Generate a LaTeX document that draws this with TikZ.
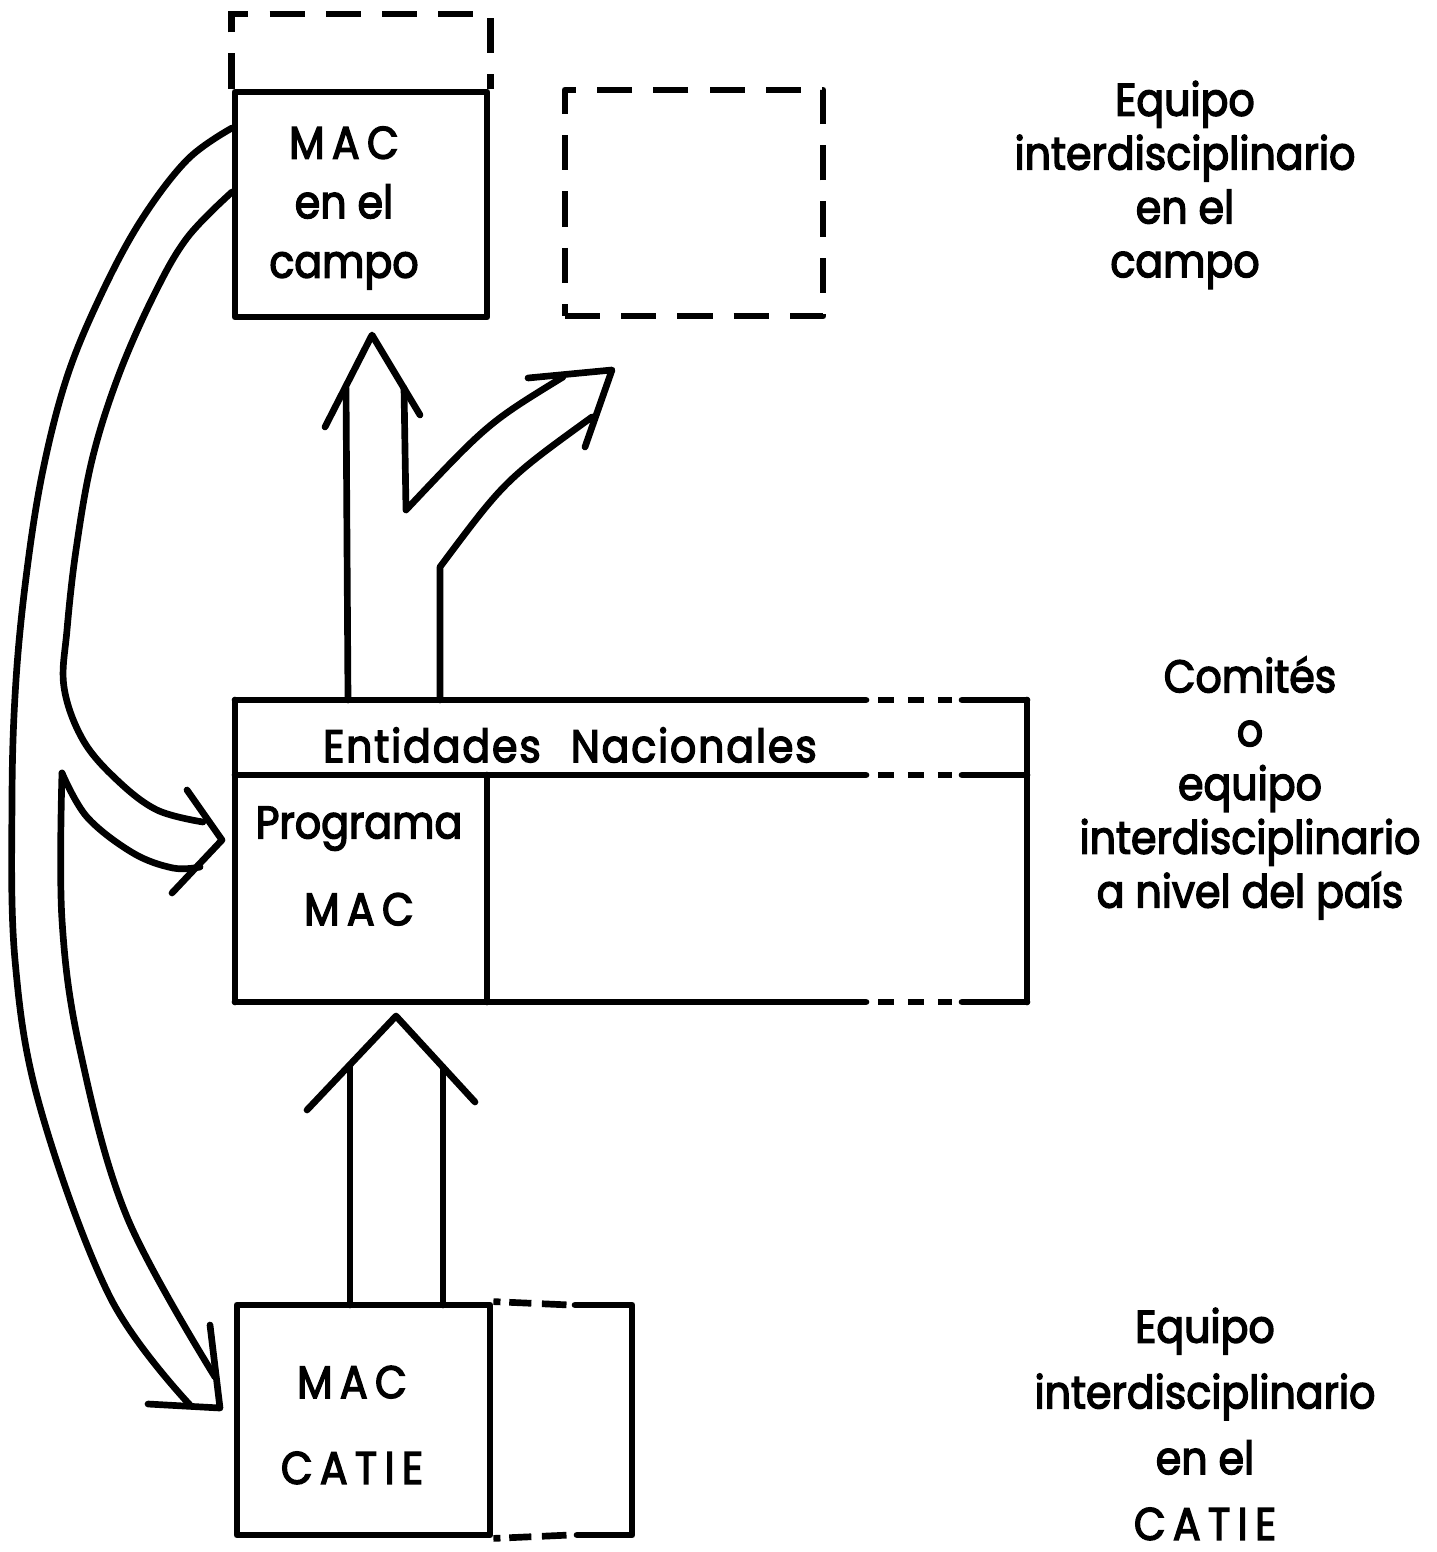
\documentclass[tikz,border=0pt]{standalone}
\usepackage{fontspec}
\setmainfont{Poppins}[FakeStretch=0.9, FakeBold=3]
\usetikzlibrary{positioning}

\newcommand{\abierto}[1]{{\addfontfeature{LetterSpace=16}#1}}

\tikzset{
  linea/.style={line width=1.9pt, line cap=round, line join=round},
  caja/.style={linea, draw, minimum width=2.52cm, minimum height=2.25cm, inner sep=0pt},
  rayas/.style={line width=1.9pt, line cap=butt, dash pattern=on 10pt off 6pt},
  puntos/.style={line width=1.9pt, line cap=butt, dash pattern=on 4.5pt off 4pt},
  cortes/.style={line width=1.9pt, line cap=butt, dash pattern=on 2pt off 2.5pt on 6.3pt off 3pt on 7pt off 20pt},
  texto/.style={font=\fontsize{13pt}{15.3pt}\selectfont, align=center, inner sep=0pt},
}

\begin{document}
\begin{tikzpicture}[x=0.01cm, y=-0.01cm]
\useasboundingbox (0,0) rectangle (1437,1552);

% nivel del campo
\node[caja] (campo) at (361,204.5) {};
\draw[rayas] (campo.north west) -- (campo.north west |- 0,14) -- (campo.north east |- 0,14) -- (campo.north east);
\node[texto, font=\fontsize{13pt}{16.9pt}\selectfont] (campo txt) at (344,208) {\abierto{MAC}\\en el\\campo};
\node[caja, rayas, minimum width=2.58cm, minimum height=2.26cm] (vacia) at (694,203) {};
\node[texto] (equipo campo) at (1185,185) {Equipo\\interdisciplinario\\en el\\campo};

% nivel del pais
\foreach \y in {700,775,1002}{
  \draw[linea] (235,\y) -- (866,\y);
  \draw[puntos] (878,\y) -- (952,\y);
  \draw[linea] (962,\y) -- (1027,\y);
}
\draw[linea] (235,700) -- (235,1002);
\draw[linea] (1027,700) -- (1027,1002);
\draw[linea] (487,775) -- (487,1002);
\node[texto] (entidades) at (570,745) {{\addfontfeature{LetterSpace=4}Entidades}\hspace{0.3cm}{\addfontfeature{LetterSpace=4}Nacionales}};
\node[texto, font=\fontsize{13pt}{24.7pt}\selectfont] (programa) at (359,866) {Programa\\\abierto{MAC}};
\node[texto] (comites) at (1250,788) {Comités\\o\\equipo\\interdisciplinario\\a nivel del país};

% nivel del CATIE
\node[caja, minimum width=2.53cm, minimum height=2.3cm] (catie) at (363.5,1420) {};
\draw[cortes] (catie.north east) -- (570,1305);
\draw[linea] (575,1305) -- (632,1305) -- (632,1535) -- (577,1535);
\draw[cortes] (catie.south east) -- (570,1535);
\node[texto, font=\fontsize{13pt}{24.4pt}\selectfont] (catie txt) at (352,1425) {\abierto{MAC}\\\abierto{CATIE}};
\node[texto, font=\fontsize{13pt}{18.7pt}\selectfont] (equipo catie) at (1205,1424) {Equipo\\interdisciplinario\\en el\\\abierto{CATIE}};

% flecha del CATIE al pais
\draw[linea] (350,1305) -- (350,1065);
\draw[linea] (443,1305) -- (443,1067);
\draw[linea] (307,1110) -- (396,1016) -- (475,1102);

% flecha del pais al campo, con rama
\draw[linea] (348,700) -- (346,388);
\draw[linea] (325,427) -- (372,335) -- (420,415);
\draw[linea] (404,388) -- (406,510) .. controls (488,423) .. (563,377);
\draw[linea] (440,700) -- (440,567) .. controls (505,480) .. (592,417);
\draw[linea] (528,378) -- (612,370) -- (585,447);

% flechas curvas del campo
\draw[linea] plot[smooth, tension=0.6] coordinates {(232,128) (187,160) (140,222) (100,297) (67,377) (43,470) (27,570) (16,680) (12,800) (15,960) (40,1107) (110,1297) (190,1405)};
\draw[linea] plot[smooth, tension=0.6] coordinates {(232,192) (187,238) (153,297) (118,377) (92,460) (76,550) (67,630) (64,687) (83,740) (117,780) (157,810) (203,822)};
\draw[linea] plot[smooth, tension=0.6] coordinates {(200,867) (173,868) (133,853) (87,817) (62,773)};
\draw[linea] plot[smooth, tension=0.6] coordinates {(62,773) (62,920) (80,1050) (127,1217) (215,1377)};
\draw[linea] (187,790) -- (222,840) -- (172,893);
\draw[linea] (210,1325) -- (220,1408) -- (148,1404);
\end{tikzpicture}
\end{document}
